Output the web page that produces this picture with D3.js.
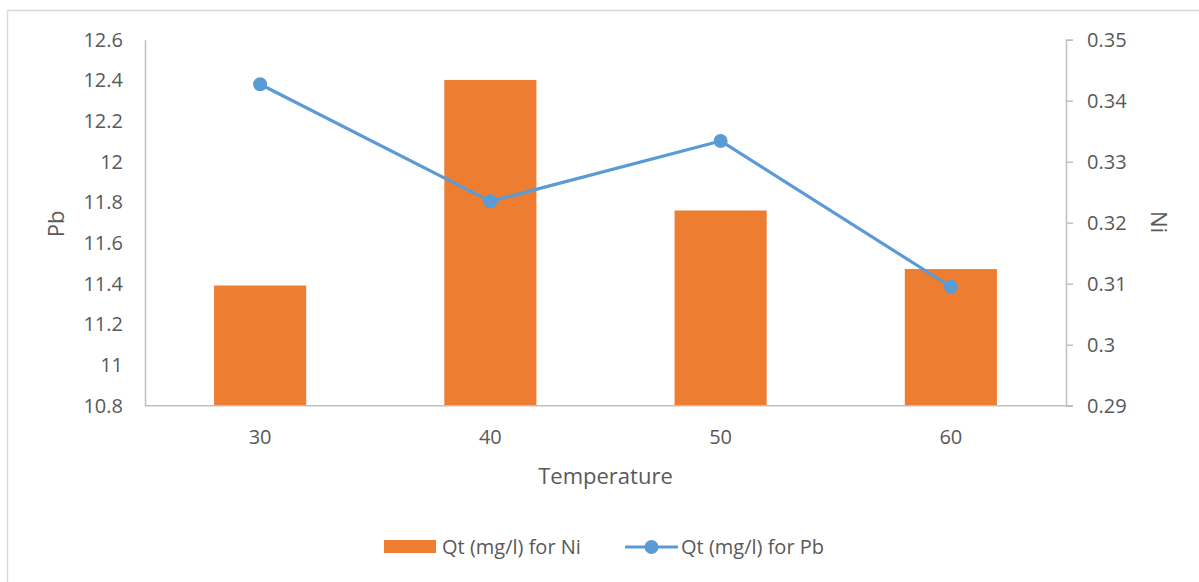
<!DOCTYPE html>
<html>
<head>
<meta charset="utf-8">
<script src="https://cdn.jsdelivr.net/npm/d3@7"></script>
<style>
  body { margin: 0; background: #fff; }
  svg text { font-family: "Open Sans", sans-serif; fill: #595959; }
</style>
</head>
<body>
<svg id="chart" width="1199" height="582"></svg>
<script>
var temperatures = ['30', '40', '50', '60'];
var niValues = [0.3097, 0.3434, 0.3220, 0.3124];
var pbValues = [12.381, 11.805, 12.102, 11.385];
var pbTicks = [10.8, 11, 11.2, 11.4, 11.6, 11.8, 12, 12.2, 12.4, 12.6];
var niTicks = [0.29, 0.3, 0.31, 0.32, 0.33, 0.34, 0.35];

var plotLeft = 145, plotRight = 1066, plotTop = 39.7, plotBottom = 405.7,
    orange = '#ED7D31', blue = '#5B9BD5', axisColor = '#BFBFBF';

var svg = d3.select('#chart');

// outer chart border
svg.append('rect')
  .attr('x', 7.5).attr('y', 10.5)
  .attr('width', 1220).attr('height', 620)
  .attr('fill', 'none').attr('stroke', '#d9d9d9').attr('stroke-width', 1.5);

var x = d3.scaleBand().domain(temperatures).range([plotLeft, plotRight]);
var yPb = d3.scaleLinear().domain([10.8, 12.6]).range([plotBottom, plotTop]);
var yNi = d3.scaleLinear().domain([0.29, 0.35]).range([plotBottom, plotTop]);

// bars (Ni, right axis)
var barW = x.bandwidth() * 0.4;
svg.selectAll('rect.bar').data(niValues)
  .enter().append('rect')
  .attr('class', 'bar')
  .attr('x', function(d, i) { return x(temperatures[i]) + (x.bandwidth() - barW) / 2; })
  .attr('y', function(d) { return yNi(d); })
  .attr('width', barW)
  .attr('height', function(d) { return plotBottom - yNi(d); })
  .attr('fill', orange);

// left axis (Pb)
var gL = svg.append('g').attr('transform', 'translate(' + plotLeft + ',0)')
  .call(d3.axisLeft(yPb).tickValues(pbTicks).tickSize(0).tickPadding(22).tickFormat(d3.format('')));
gL.select('.domain').attr('stroke', axisColor).attr('stroke-width', 1.5);
gL.selectAll('text').style('font-size', '20px').attr('fill', '#595959');

// right axis (Ni)
var gR = svg.append('g').attr('transform', 'translate(' + plotRight + ',0)')
  .call(d3.axisRight(yNi).tickValues(niTicks).tickSize(7).tickPadding(14).tickSizeOuter(7).tickFormat(d3.format('')));
gR.select('.domain').attr('stroke', axisColor).attr('stroke-width', 1.5);
gR.selectAll('line').attr('stroke', axisColor).attr('stroke-width', 1.5);
gR.selectAll('text').style('font-size', '20px').attr('fill', '#595959');

// bottom axis
var gB = svg.append('g').attr('transform', 'translate(0,' + plotBottom + ')')
  .call(d3.axisBottom(x).tickSize(0).tickPadding(24));
gB.select('.domain').attr('d', 'M' + plotLeft + ',0H' + (plotRight + 7)).attr('stroke', axisColor).attr('stroke-width', 1.5);
gB.selectAll('text').style('font-size', '20px').attr('fill', '#595959');

// line (Pb, left axis)
var line = d3.line()
  .x(function(d, i) { return x(temperatures[i]) + x.bandwidth() / 2; })
  .y(function(d) { return yPb(d); });

svg.append('path').datum(pbValues)
  .attr('d', line)
  .attr('fill', 'none').attr('stroke', blue).attr('stroke-width', 3.2)
  .attr('stroke-linejoin', 'round');

svg.selectAll('circle.pt').data(pbValues)
  .enter().append('circle')
  .attr('class', 'pt')
  .attr('cx', function(d, i) { return x(temperatures[i]) + x.bandwidth() / 2; })
  .attr('cy', function(d) { return yPb(d); })
  .attr('r', 7)
  .attr('fill', blue);

// axis titles
svg.append('text').text('Temperature')
  .attr('x', (plotLeft + plotRight) / 2).attr('y', 484)
  .attr('text-anchor', 'middle').style('font-size', '22px');

svg.append('text').text('Pb')
  .attr('transform', 'translate(64,' + 224 + ') rotate(-90)')
  .attr('text-anchor', 'middle').style('font-size', '22px');

svg.append('text').text('Ni')
  .attr('transform', 'translate(1151,' + 222 + ') rotate(90)')
  .attr('text-anchor', 'middle').style('font-size', '22px');

// legend
var lg = svg.append('g');
lg.append('rect').attr('x', 384).attr('y', 540).attr('width', 52).attr('height', 13).attr('fill', orange);
lg.append('text').text('Qt (mg/l) for Ni').attr('x', 442).attr('y', 554).style('font-size', '20px');
lg.append('line').attr('x1', 625).attr('x2', 678).attr('y1', 547).attr('y2', 547)
  .attr('stroke', blue).attr('stroke-width', 3.2);
lg.append('circle').attr('cx', 651.5).attr('cy', 547).attr('r', 7).attr('fill', blue);
lg.append('text').text('Qt (mg/l) for Pb').attr('x', 681).attr('y', 554).style('font-size', '20px');
</script>
</body>
</html>
